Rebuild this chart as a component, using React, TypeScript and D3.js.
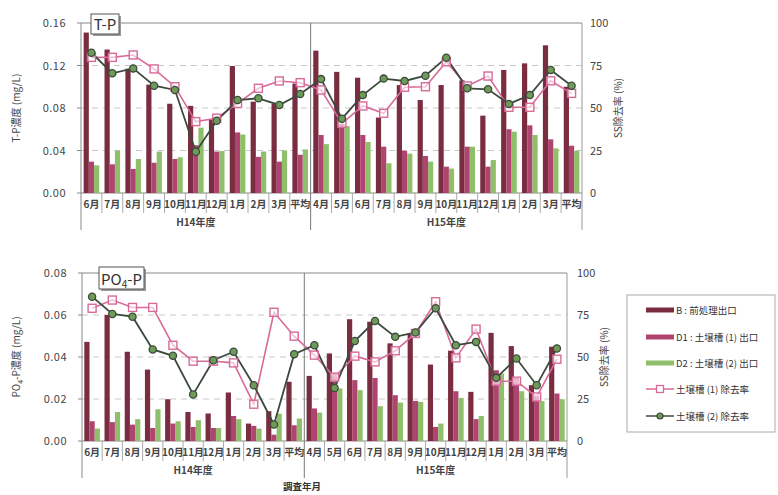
import React from "react";
import * as d3 from "d3";

const months = ["6月","7月","8月","9月","10月","11月","12月","1月","2月","3月","平均","4月","5月","6月","7月","8月","9月","10月","11月","12月","1月","2月","3月","平均"];
const groups = [{ name: "H14年度", count: 11 }, { name: "H15年度", count: 13 }];

const tpB = [0.151,0.135,0.117,0.102,0.084,0.082,0.069,0.1195,0.086,0.084,0.103, 0.134,0.114,0.1085,0.071,0.1016,0.0875,0.1016,0.106,0.0728,0.1158,0.122,0.139,0.100];
const tpD1 = [0.0295,0.027,0.0226,0.0285,0.032,0.045,0.039,0.057,0.034,0.0295,0.036, 0.0546,0.065,0.0546,0.0436,0.0398,0.0348,0.0248,0.0436,0.0248,0.060,0.0637,0.0505,0.0445];
const tpD2 = [0.026,0.040,0.032,0.039,0.0336,0.0615,0.0395,0.055,0.039,0.040,0.041, 0.046,0.063,0.048,0.028,0.037,0.0295,0.023,0.0436,0.031,0.0577,0.0546,0.042,0.0398];
const tpR1 = [79.8,79.8,81.2,73,62.5,42,44,52.7,61.6,65.9,64.9, 60.6,41,51.2,46.9,62.2,62.5,77.2,63,68.8,50.4,50.4,66,58.6];
const tpR2 = [82.5,70.4,73.3,63.1,60.6,24.3,42.5,54.7,55.7,51.8,58.2, 67,43.7,57.6,67.3,65.9,69,79.6,61.6,61,52.4,57.6,72.4,63.1];

const poB = [0.0472,0.060,0.0425,0.034,0.0199,0.0138,0.0131,0.0231,0.0083,0.0142,0.0282, 0.031,0.0417,0.058,0.0568,0.0465,0.0512,0.0364,0.043,0.0234,0.0515,0.0452,0.0266,0.0449];
const poD1 = [0.0094,0.009,0.0078,0.0062,0.0083,0.0067,0.0062,0.0119,0.0072,0.003,0.0075, 0.0155,0.0321,0.029,0.030,0.0218,0.0191,0.0067,0.0237,0.0104,0.0337,0.030,0.0215,0.0226];
const poD2 = [0.0059,0.0138,0.0104,0.0151,0.0094,0.0099,0.0062,0.0104,0.0059,0.013,0.0107, 0.0135,0.025,0.0242,0.0166,0.0183,0.0186,0.0083,0.0205,0.0119,0.0321,0.0237,0.019,0.0199];
const poR1 = [79,83.9,79.5,79.5,57,47.5,47.5,46.5,21.9,76.6,62.4, 51.1,38,50.5,47.1,53.7,64,82.9,49.5,66.6,35.6,35.6,26.2,48.7];
const poR2 = [85.9,75.6,74,54.5,50.7,27.7,48.1,53.1,33.2,9.8,51.7, 57,31.6,59.5,71.4,62,64.6,79,57,59,37.6,49.1,33.2,55.1];

const tpTicks = [0, 0.04, 0.08, 0.12, 0.16];
const poTicks = [0, 0.02, 0.04, 0.06, 0.08];
const rateTicks = [0, 25, 50, 75, 100];

const legendLabels = ["B : 前処理出口", "D1 : 土壌槽 (1) 出口", "D2 : 土壌槽 (2) 出口", "土壌槽 (1) 除去率", "土壌槽 (2) 除去率"];

const C_B = "#7a2c40";
const C_D1 = "#b04470";
const C_D2 = "#8fbf6a";
const C_R1 = "#d86a98";
const C_R2 = "#3c4a3e";
const C_R2F = "#6e9c58";
const FONT = "'Noto Sans CJK JP', 'Noto Sans', sans-serif";
const TXT = "#444";

type PanelProps = {
  x0: number; x1: number; yTop: number; yBot: number;
  yMax: number; ticks: number[]; B: number[]; D1: number[]; D2: number[]; R1: number[]; R2: number[];
  leftLabel: React.ReactNode; leftLabelY: number; rightLabelX: number; rightTickX: number;
  title: React.ReactNode; titleBox: [number, number, number, number];
  axisBottom: number;
};

function Panel(p: PanelProps) {
  const idx = months.map((_, i) => i);
  const x = d3.scaleBand<number>().domain(idx).range([p.x0, p.x1]).padding(0);
  const y = d3.scaleLinear().domain([0, p.yMax]).range([p.yBot, p.yTop]);
  const yr = d3.scaleLinear().domain([0, 100]).range([p.yBot, p.yTop]);
  const bw = x.bandwidth();
  const barW = 5.2;
  const cx = (i: number) => (x(i) as number) + bw / 2;
  const line = d3.line<number>().x((_, i) => cx(i)).y((v) => yr(v));
  const divX = x(groups[0].count) as number;
  const rowBottom = p.yBot + 20;
  const groupBounds: number[] = [];
  let acc = 0;
  groups.forEach((g) => { groupBounds.push(acc); acc += g.count; });
  const [tbx, tby, tbw, tbh] = p.titleBox;
  return (
    <g>
      {rateTicks.slice(1, 4).map((t) => (
        <line key={t} x1={p.x0} x2={p.x1} y1={yr(t)} y2={yr(t)} stroke="#c8c8c8" strokeDasharray="6,5" strokeWidth={1} />
      ))}
      <line x1={p.x0} x2={p.x1} y1={p.yTop} y2={p.yTop} stroke="#888" strokeWidth={1} />
      <line x1={p.x1} x2={p.x1} y1={p.yTop} y2={p.axisBottom} stroke="#999" strokeWidth={1} />
      <line x1={p.x0} x2={p.x0} y1={p.yTop} y2={p.axisBottom} stroke="#888" strokeWidth={1} />
      <line x1={divX} x2={divX} y1={p.yTop} y2={p.axisBottom} stroke="#777" strokeWidth={1} />
      <line x1={p.x0} x2={p.x1} y1={p.yBot} y2={p.yBot} stroke="#888" strokeWidth={1} />
      {p.ticks.map((t) => (
        <g key={t}>
          <line x1={p.x0 - 4} x2={p.x0} y1={y(t)} y2={y(t)} stroke="#888" />
          <text x={p.x0 - 15} y={y(t) + 4} textAnchor="end" fontSize={11} fill={TXT} fontFamily={FONT} letterSpacing={0.5}>
            {t.toFixed(2)}
          </text>
        </g>
      ))}
      {rateTicks.map((t) => (
        <text key={t} x={p.rightTickX} y={yr(t) + 4} fontSize={11} fill={TXT} fontFamily={FONT}>{t}</text>
      ))}
      {idx.map((i) => {
        const c = cx(i);
        return (
          <g key={i}>
            <rect x={c - barW * 1.5} y={y(p.B[i])} width={barW} height={p.yBot - y(p.B[i])} fill={C_B} />
            <rect x={c - barW * 0.5} y={y(p.D1[i])} width={barW} height={p.yBot - y(p.D1[i])} fill={C_D1} />
            <rect x={c + barW * 0.5} y={y(p.D2[i])} width={barW} height={p.yBot - y(p.D2[i])} fill={C_D2} />
          </g>
        );
      })}
      <path d={line(p.R1) || ""} fill="none" stroke={C_R1} strokeWidth={1.6} />
      <path d={line(p.R2) || ""} fill="none" stroke={C_R2} strokeWidth={1.8} />
      {p.R1.map((v, i) => (
        <rect key={"s" + i} x={cx(i) - 4} y={yr(v) - 4} width={8} height={8} fill="white" fillOpacity={0.6} stroke={C_R1} strokeWidth={1.4} />
      ))}
      {p.R2.map((v, i) => (
        <circle key={"c" + i} cx={cx(i)} cy={yr(v)} r={3.6} fill={C_R2F} stroke={C_R2} strokeWidth={1.3} />
      ))}
      {idx.map((i) => (
        <g key={"m" + i}>
          {i > 0 && i !== groups[0].count && (
            <line x1={x(i) as number} x2={x(i) as number} y1={p.yBot} y2={rowBottom} stroke="#aaa" />
          )}
          <text x={cx(i)} y={p.yBot + 15} textAnchor="middle" fontSize={10} fill={TXT} fontFamily={FONT} fontWeight={600}>
            {months[i]}
          </text>
        </g>
      ))}
      {groups.map((g, gi) => {
        const a = x(groupBounds[gi]) as number;
        const b = a + g.count * bw;
        return (
          <text key={g.name} x={(a + b) / 2} y={p.yBot + 33} textAnchor="middle" fontSize={10} fill={TXT} fontFamily={FONT} fontWeight={600}>
            {g.name}
          </text>
        );
      })}
      <text transform={`translate(20,${p.leftLabelY}) rotate(-90)`} textAnchor="middle" fontSize={10} fill={TXT} fontFamily={FONT}>
        {p.leftLabel}
      </text>
      <text transform={`translate(${p.rightLabelX},${(p.yTop + p.yBot) / 2}) rotate(-90)`} textAnchor="middle" fontSize={10} fill={TXT} fontFamily={FONT}>
        SS除去率 (%)
      </text>
      <rect x={tbx + 2} y={tby + 2} width={tbw} height={tbh} fill="#9a9a9a" />
      <rect x={tbx} y={tby} width={tbw} height={tbh} fill="white" stroke="#555" strokeWidth={1} />
      <text x={tbx + tbw / 2} y={tby + tbh - 4} textAnchor="middle" fontSize={15} fill="#333" fontFamily={FONT}>
        {p.title}
      </text>
    </g>
  );
}

export default function App() {
  const lx = 646, lw = 28;
  const legendYs = [310, 337, 363, 389, 416];
  return (
    <svg width={778} height={495} style={{ position: "absolute", left: 0, top: 0, background: "white" }}>
      <rect width={778} height={495} fill="white" />
      <Panel
        x0={81} x1={582} yTop={23} yBot={193} yMax={0.16} ticks={tpTicks}
        B={tpB} D1={tpD1} D2={tpD2} R1={tpR1} R2={tpR2}
        leftLabel="T-P濃度 (mg/L)" leftLabelY={108} rightLabelX={622} rightTickX={590}
        title="T-P" titleBox={[91, 14, 28, 20]} axisBottom={230}
      />
      <Panel
        x0={82} x1={567} yTop={273} yBot={441} yMax={0.08} ticks={poTicks}
        B={poB} D1={poD1} D2={poD2} R1={poR1} R2={poR2}
        leftLabel={<>PO<tspan fontSize={7} dy={3}>4</tspan><tspan dy={-3}>-P濃度 (mg/L)</tspan></>}
        leftLabelY={357} rightLabelX={608} rightTickX={577}
        title={<>PO<tspan fontSize={10} dy={3}>4</tspan><tspan dy={-3}>-P</tspan></>} titleBox={[99, 267, 45, 22]} axisBottom={478}
      />
      <text x={302} y={490} textAnchor="middle" fontSize={9.5} fill="#333" fontFamily={FONT} fontWeight={700}>調査年月</text>
      <rect x={627} y={295} width={148} height={137} fill="white" stroke="#aaa" strokeWidth={1} />
      {legendLabels.map((lab, i) => {
        const ly = legendYs[i];
        return (
          <g key={lab}>
            {i === 0 && <rect x={lx} y={ly - 2.5} width={lw} height={5} fill={C_B} />}
            {i === 1 && <rect x={lx} y={ly - 2.5} width={lw} height={5} fill={C_D1} />}
            {i === 2 && <rect x={lx} y={ly - 2.5} width={lw} height={5} fill={C_D2} />}
            {i === 3 && (
              <g>
                <line x1={lx} x2={lx + lw} y1={ly} y2={ly} stroke={C_R1} strokeWidth={1.5} />
                <rect x={lx + lw / 2 - 3.5} y={ly - 3.5} width={7} height={7} fill="white" stroke={C_R1} strokeWidth={1.3} />
              </g>
            )}
            {i === 4 && (
              <g>
                <line x1={lx} x2={lx + lw} y1={ly} y2={ly} stroke={C_R2} strokeWidth={1.5} />
                <circle cx={lx + lw / 2} cy={ly} r={3} fill={C_R2F} stroke={C_R2} strokeWidth={1.2} />
              </g>
            )}
            <text x={lx + lw + 2} y={ly + 4} fontSize={9.5} fill="#333" fontFamily={FONT}>{lab}</text>
          </g>
        );
      })}
    </svg>
  );
}
